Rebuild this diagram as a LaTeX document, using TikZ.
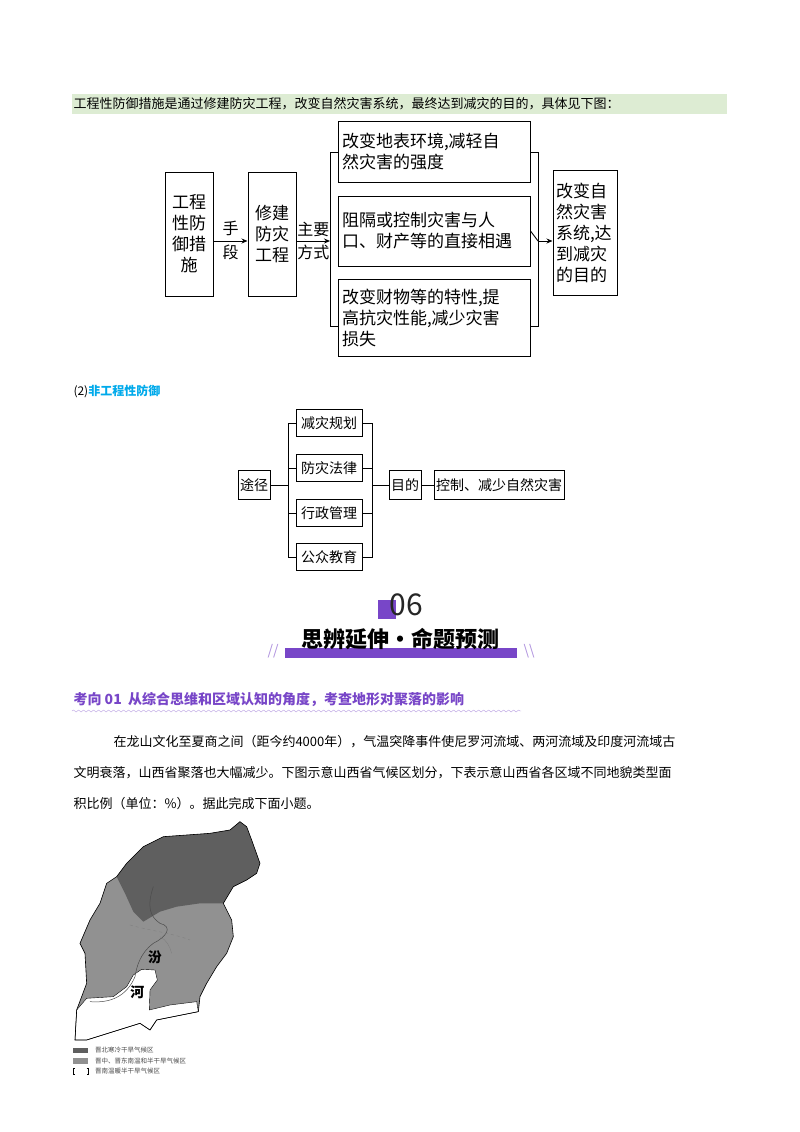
\documentclass[tikz,border=0pt]{standalone}
\usepackage{fontspec}
\setmainfont{Noto Sans CJK SC}
\usetikzlibrary{arrows.meta,decorations.pathmorphing}
\definecolor{hlgreen}{RGB}{221,236,211}
\definecolor{skyb}{RGB}{0,170,235}
\definecolor{purp}{RGB}{120,70,200}
\definecolor{darkg}{RGB}{95,95,95}
\definecolor{midg}{RGB}{145,145,145}
\tikzset{
 bx/.style={draw,line width=1pt,inner sep=2pt},
 ln/.style={line width=0.9pt},
 ar/.style={line width=0.9pt,-{Stealth[length=6pt,width=5pt]}},
 bt/.style={font=\fontsize{17}{21}\selectfont},
 st/.style={font=\fontsize{14}{16}\selectfont},
 pt/.style={font=\fontsize{13}{15}\selectfont,anchor=west},
}
\begin{document}
\begin{tikzpicture}[x=1pt,y=-1pt]
\useasboundingbox (0,0) rectangle (800,1132);
\fill[white] (0,0) rectangle (800,1132);
% header
\fill[hlgreen] (72,94) rectangle (727,114);
\node[pt] (hd) at (70,104) {工程性防御措施是通过修建防灾工程，改变自然灾害系统，最终达到减灾的目的，具体见下图：};
% diagram 1
\node[bx,bt,minimum width=48pt,minimum height=124pt,align=center] (b1) at (189,234) {工程\\性防\\御措\\施};
\node[bx,bt,minimum width=48pt,minimum height=124pt,align=center] (b2) at (272,234) {修建\\防灾\\工程};
\node[bx,bt,minimum width=192pt,minimum height=61pt,align=left,text width=184pt] (r1) at (434,152) {改变地表环境,减轻自\\然灾害的强度};
\node[bx,bt,minimum width=192pt,minimum height=70pt,align=left,text width=184pt] (r2) at (434,231) {阻隔或控制灾害与人\\口、财产等的直接相遇};
\node[bx,bt,minimum width=192pt,minimum height=77pt,align=left,text width=184pt] (r3) at (434,318) {改变财物等的特性,提\\高抗灾性能,减少灾害\\损失};
\node[bx,bt,minimum width=64pt,minimum height=125pt,align=left,text width=58pt] (b5) at (585,233) {改变自\\然灾害\\系统,达\\到减灾\\的目的};
\coordinate (lb) at (330,241);
\coordinate (rb) at (538,241);
\draw[ar] (b1.east|-lb) -- (b2.west|-lb) node[midway,above,font=\fontsize{16}{18}\selectfont,yshift=1pt]{手} node[midway,below,font=\fontsize{16}{18}\selectfont]{段};
\draw[ar] (b2.east|-lb) -- (lb) node[midway,above,font=\fontsize{16}{18}\selectfont]{主要} node[midway,below,font=\fontsize{16}{18}\selectfont]{方式};
\draw[ln] (r1.west-|lb)++(8,0) -- ++(-8,0) -- (330,326) -- ++(8,0);
\draw[ln] (r1.east-|rb)++(-8,0) -- ++(8,0) -- (538,326) -- ++(-8,0);
\draw[ln] (r2.east) -- (rb);
\draw[ar] (rb) -- (b5.west|-rb);
% (2)
\node[pt] (t2) at (70,391) {\fontsize{12}{14}\selectfont(2)\textcolor{skyb}{\bfseries 非工程性防御}};
\node[bx,st,minimum height=29pt] (tj) at (254,485) {途径};
\foreach \n/\t/\y in {a/减灾规划/423,b/防灾法律/468,c/行政管理/513,d/公众教育/557}
  \node[bx,st,minimum width=66pt,minimum height=27pt] (\n) at (329,\y) {\t};
\draw[ln] (tj) -- (288,485);
\draw[ln] (a.west) -- (288,423) -- (288,557) -- (d.west);
\draw[ln] (b.west) -- (288,468); \draw[ln] (c.west) -- (288,513);
\draw[ln] (a.east) -- (372,423) -- (372,557) -- (d.east);
\draw[ln] (b.east) -- (372,468); \draw[ln] (c.east) -- (372,513);
\node[bx,st,minimum height=29pt] (md) at (405,485) {目的};
\node[bx,st,minimum height=29pt] (kz) at (499,485) {控制、减少自然灾害};
\draw[ln] (372,485) -- (md); \draw[ln] (md) -- (kz);
% 06 header
\fill[purp] (378,600) rectangle (396,619);
\node[font=\fontsize{30}{30}\selectfont,text=black!85] (n6) at (406,605) {06};
\fill[purp] (285,648) rectangle (517,658);
\node[font=\fontsize{22}{24}\selectfont\bfseries] (tt) at (400,639) {思辨延伸·命题预测};
\node[font=\fontsize{14}{14}\selectfont\itshape,text=purp!60] (s1) at (273,651) {//};
\node[font=\fontsize{14}{14}\selectfont\itshape,text=purp!60] (s2) at (529,651) {\textbackslash\textbackslash};
% 考向
\node[pt,text=purp,font=\fontsize{14}{16}\selectfont\bfseries] (kx) at (70,700) {考向 01\ \ 从综合思维和区域认知的角度，考查地形对聚落的影响};
\draw[purp!50,decorate,decoration={snake,amplitude=1pt,segment length=5pt}] (72,711) -- (521,711);
\node[pt] (p1) at (110,742) {在龙山文化至夏商之间（距今约4000年），气温突降事件使尼罗河流域、两河流域及印度河流域古};
\node[pt] (p2) at (70,773) {文明衰落，山西省聚落也大幅减少。下图示意山西省气候区划分，下表示意山西省各区域不同地貌类型面};
\node[pt] (p3) at (70,804) {积比例（单位：\%）。据此完成下面小题。};
% map
\begin{scope}[shift={(60,810)},x=0.3333pt,y=-0.3333pt]
\fill[midg] (540,35)--(560,50)--(575,90)--(600,160)--(590,190)--(560,210)--(520,230)--(490,280)--(515,330)--(520,380)--(500,430)--(470,470)--(440,520)--(420,560)--(415,605)--(290,630)--(270,660)--(240,640)--(80,690)--(45,690)--(50,600)--(80,520)--(75,430)--(60,400)--(90,330)--(120,280)--(140,220)--(170,200)--(200,160)--(250,110)--(310,80)--(380,75)--(450,70)--(510,60)--cycle;
\fill[darkg] (540,35)--(560,50)--(575,90)--(600,160)--(590,190)--(560,210)--(520,230)--(490,280)--(420,280)--(350,290)--(300,305)--(250,335)--(220,305)--(195,250)--(170,200)--(200,160)--(250,110)--(310,80)--(380,75)--(450,70)--(510,60)--cycle;
\fill[white,draw=black,line width=0.4pt] (80,565)--(160,560)--(200,530)--(220,495)--(245,478)--(285,480)--(292,510)--(270,540)--(268,600)--(330,585)--(410,575)--(415,605)--(290,630)--(270,660)--(240,640)--(80,690)--(45,690)--(50,600)--cycle;
\draw[black,line width=0.6pt] (540,35)--(560,50)--(575,90)--(600,160)--(590,190)--(560,210)--(520,230)--(490,280)--(515,330)--(520,380)--(500,430)--(470,470)--(440,520)--(420,560)--(415,605)--(290,630)--(270,660)--(240,640)--(80,690)--(45,690)--(50,600)--(80,520)--(75,430)--(60,400)--(90,330)--(120,280)--(140,220)--(170,200)--(200,160)--(250,110)--(310,80)--(380,75)--(450,70)--(510,60)--cycle;
\draw[black!70,line width=0.5pt] (280,230) .. controls (260,290) and (270,320) .. (300,340) .. controls (340,350) and (320,380) .. (280,400) .. controls (240,430) and (230,470) .. (225,500) .. controls (200,560) and (150,580) .. (90,575);
\draw[black!50,line width=0.4pt,dashed] (210,345) .. controls (260,360) and (340,370) .. (390,390);
\draw[black!50,line width=0.4pt] (300,380) .. controls (320,390) and (330,410) .. (335,430);
\node[font=\fontsize{14}{14}\selectfont\bfseries] (fen) at (285,442) {汾};
\node[font=\fontsize{14}{14}\selectfont\bfseries] (he) at (232,548) {河};
\fill[darkg] (40,713) rectangle (85,730);
\fill[midg] (40,745) rectangle (85,762);
\draw[black,line width=0.4pt] (45,775) -- (40,775) -- (40,792) -- (45,792) (80,775) -- (85,775) -- (85,792) -- (80,792);
\node[anchor=west,font=\fontsize{6.5}{7}\selectfont,text=black!70] (l1) at (95,721) {晋北寒冷干旱气候区};
\node[anchor=west,font=\fontsize{6.5}{7}\selectfont,text=black!70] (l2) at (95,753) {晋中、晋东南温和半干旱气候区};
\node[anchor=west,font=\fontsize{6.5}{7}\selectfont,text=black!70] (l3) at (95,784) {晋南温暖半干旱气候区};
\end{scope}
\end{tikzpicture}
\end{document}
